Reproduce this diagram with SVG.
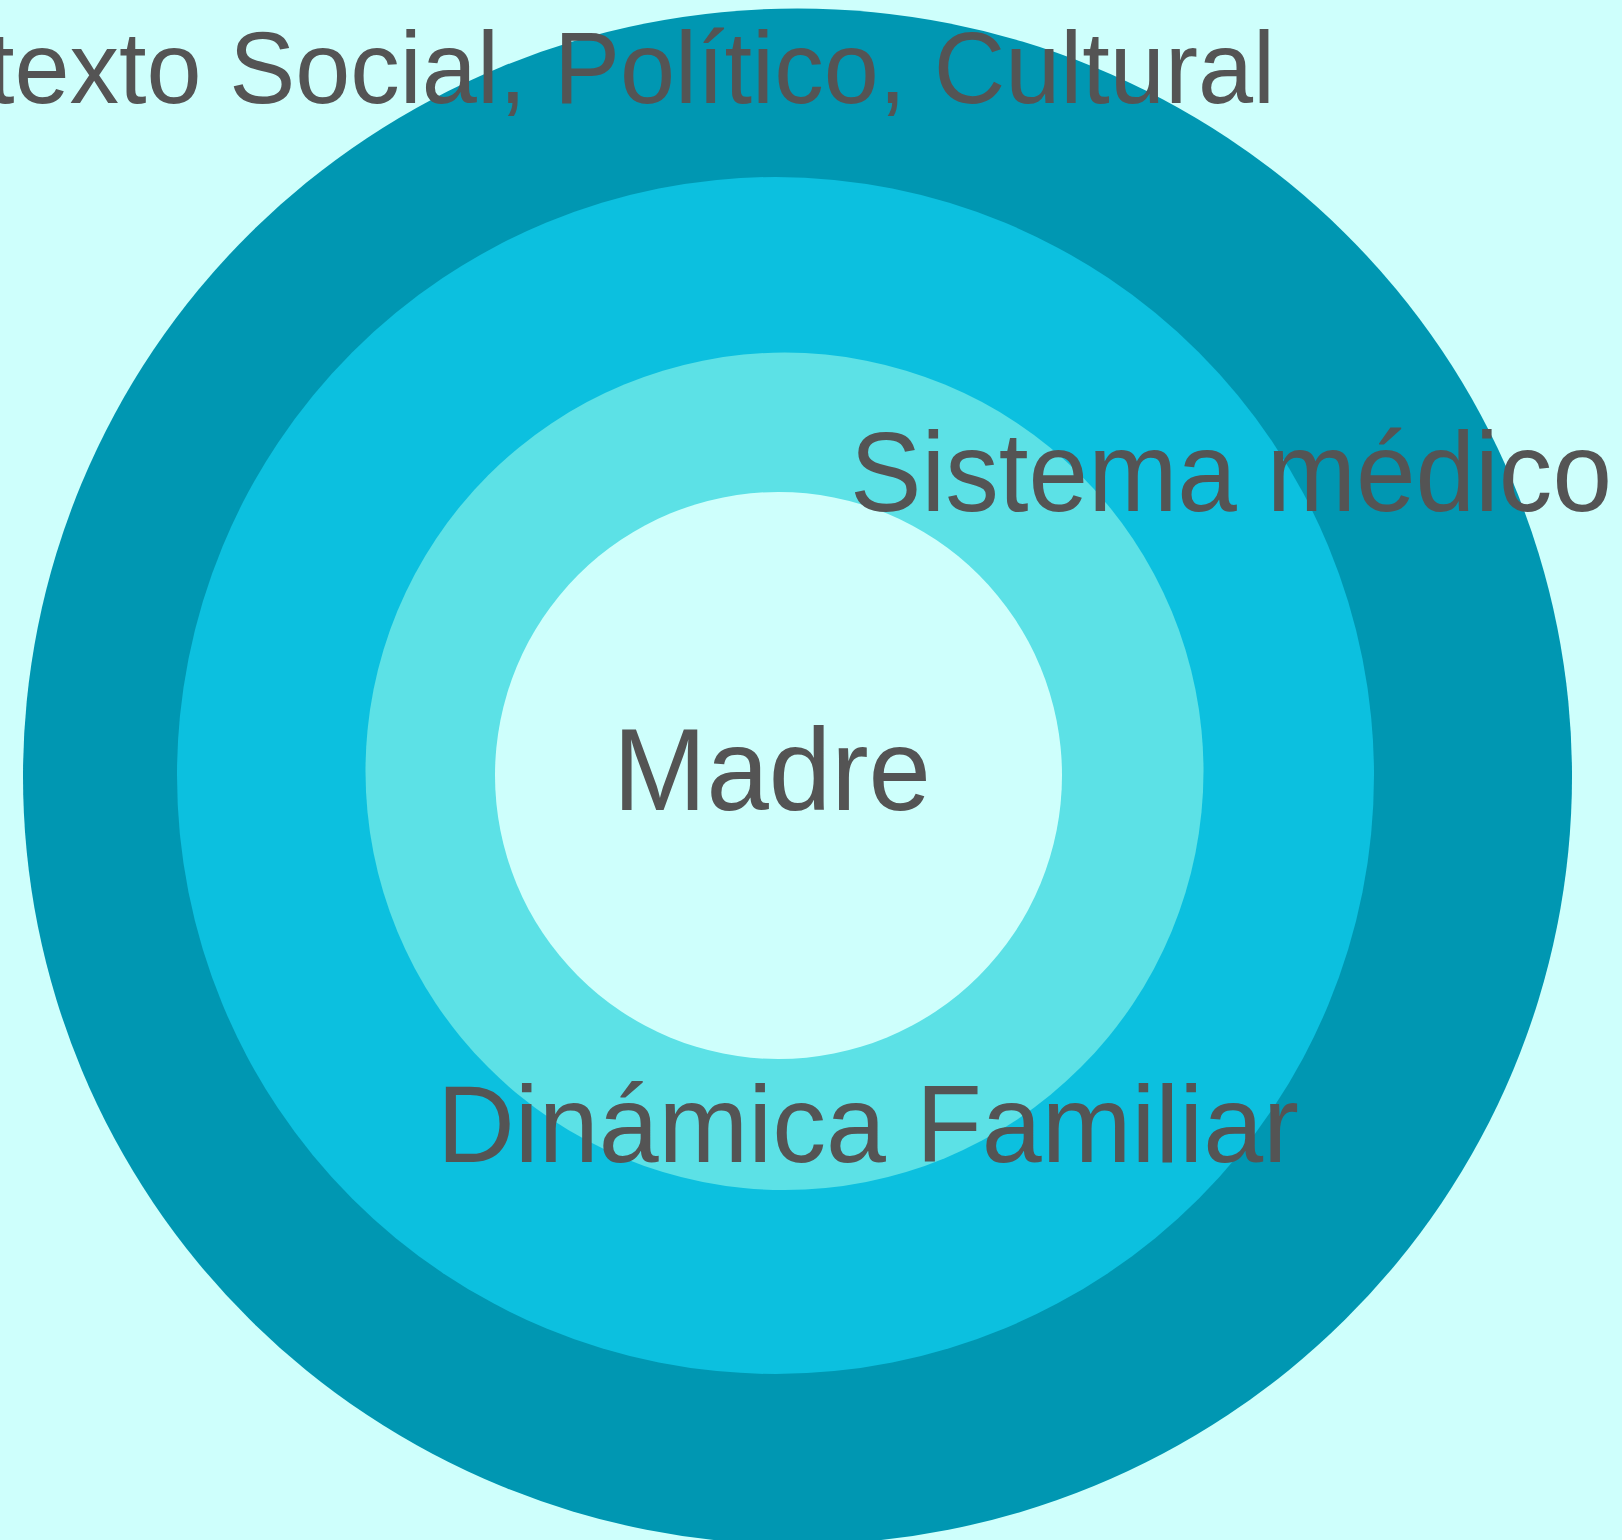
<svg xmlns="http://www.w3.org/2000/svg" width="1622" height="1540" viewBox="0 0 1622 1540">
<style>
.lbl{font-family:"Liberation Sans",Arial,sans-serif;fill:#545454;}
</style>
<rect x="0" y="0" width="1622" height="1540" fill="#CEFFFC"/>
<g id="ring-contexto"><ellipse cx="797.5" cy="776.5" rx="774.5" ry="768" fill="#0097B2"/></g>
<g id="ring-sistema"><circle cx="775.5" cy="775.5" r="598.5" fill="#0CC0DF"/></g>
<g id="ring-dinamica"><ellipse cx="784.5" cy="771.3" rx="419" ry="418.7" fill="#5CE1E6"/></g>
<g id="node-madre"><circle cx="778.5" cy="775.5" r="283.5" fill="#CEFFFC"/></g>
<g id="labels">
<text class="lbl" x="-13" y="103" font-size="102" textLength="1288" lengthAdjust="spacingAndGlyphs">texto Social, Político, Cultural</text>
<text class="lbl" x="850" y="511" font-size="113" textLength="762" lengthAdjust="spacingAndGlyphs">Sistema médico</text>
<text class="lbl" x="613" y="810" font-size="117" textLength="318" lengthAdjust="spacingAndGlyphs">Madre</text>
<text class="lbl" x="437" y="1162" font-size="110" textLength="862" lengthAdjust="spacingAndGlyphs">Dinámica Familiar</text>
</g>
<g id="connectors"/>
</svg>
